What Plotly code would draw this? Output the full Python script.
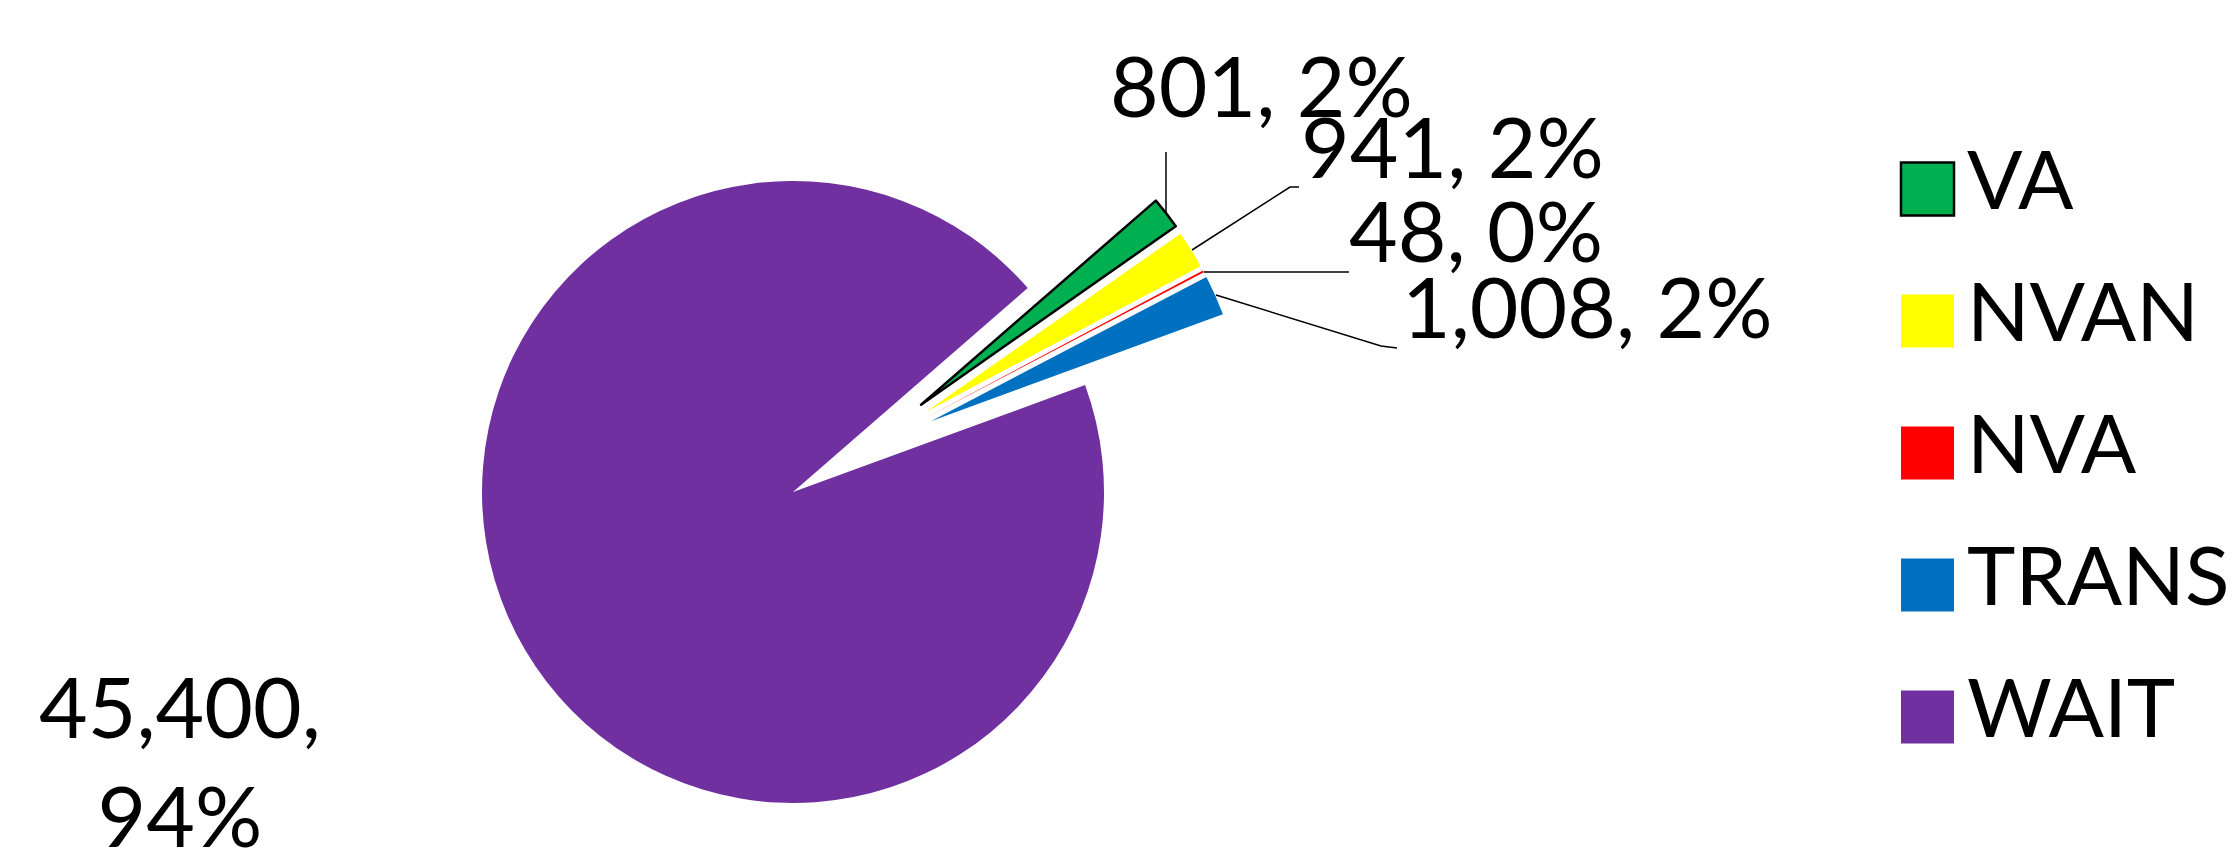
import math
import plotly.graph_objects as go

# ---------------- data ----------------
categories = ["VA", "NVAN", "NVA", "TRANS", "WAIT"]
values = [801, 941, 48, 1008, 45400]
pulled_categories = ["VA", "NVAN", "NVA", "TRANS"]

# ---------------- style / layout ----------------
W, H = 2240, 853
slice_colors = {"VA": "#00B050", "NVAN": "#FFFF00", "NVA": "#FF0000",
                "TRANS": "#0070C0", "WAIT": "#7030A0"}
outline = {"VA": ("#000000", 2.5)}
TRANSPARENT = "rgba(0,0,0,0)"
FONT = "Lato, 'Open Sans', sans-serif"
LABEL_SIZE = 84
LEGEND_SIZE = 82

CX, CY, R = 785, 484, 311      # pie centre / radius (px)
PULL_PX = 155                   # explode distance (px)
EXPLODE_SPREAD = 0.5            # how far each exploded slice's direction follows its own bisector
ROTATION = 49                   # first slice start, degrees clockwise from 12 o'clock

# label anchors (px): left edge / vertical centre of text
label_pos = {"VA": (1100, 76), "NVAN": (1291, 138), "NVA": (1339, 221),
             "TRANS": (1392, 298)}
wait_label_pos = (172, 645)      # centre x, top y
leader_lines = {
    "VA": [(1158, 144), (1158, 205)],
    "NVAN": [(1184, 242), (1282, 179), (1291, 179)],
    "NVA": [(1196, 264), (1341, 264)],
    "TRANS": [(1208, 287), (1373, 338), (1389, 340)],
}
legend_x_sq = (1893, 1946)
legend_x_text = 1957
legend_rows = [179, 311, 443, 575, 707]
SQ = 53


def px(x):
    return x / W


def py(y):
    return 1 - y / H


def domain_for(cx, cy, r):
    return dict(x=[px(cx - r), px(cx + r)], y=[py(cy + r), py(cy - r)])


def pie_trace(visible_cats, domain):
    cols, lcols, lws = [], [], []
    for c in categories:
        if c in visible_cats:
            cols.append(slice_colors[c])
            lc, lw = outline.get(c, (TRANSPARENT, 0))
        else:
            cols.append(TRANSPARENT)
            lc, lw = TRANSPARENT, 0
        lcols.append(lc)
        lws.append(lw)
    return go.Pie(labels=categories, values=values, sort=False,
                  direction="clockwise", rotation=ROTATION,
                  marker=dict(colors=cols, line=dict(color=lcols, width=lws)),
                  textinfo="none", showlegend=False, domain=domain,
                  hoverinfo="label+value+percent")


fig = go.Figure()
total = sum(values)

# un-exploded slice(s)
fig.add_trace(pie_trace([c for c in categories if c not in pulled_categories],
                        domain_for(CX, CY, R)))

# mid angles (clockwise from 12 o'clock) of every slice
mids = {}
cum = 0
for c, v in zip(categories, values):
    mids[c] = ROTATION + 360 * (cum + v / 2) / total
    cum += v
group_lo = min(mids[c] - 180 * values[categories.index(c)] / total for c in pulled_categories)
group_hi = max(mids[c] + 180 * values[categories.index(c)] / total for c in pulled_categories)
group_mid = (group_lo + group_hi) / 2

# exploded slices, each moved outward
for c in pulled_categories:
    d_cw = group_mid + EXPLODE_SPREAD * (mids[c] - group_mid)
    th = math.radians(90 - d_cw)
    cx = CX + PULL_PX * math.cos(th)
    cy = CY - PULL_PX * math.sin(th)
    fig.add_trace(pie_trace([c], domain_for(cx, cy, R)))

annotations = []
shapes = []
for c, v in zip(categories, values):
    pct = round(100 * v / total)
    if c in label_pos:
        x, y = label_pos[c]
        annotations.append(dict(x=px(x), y=py(y), xref="paper", yref="paper",
                                xanchor="left", yanchor="middle", showarrow=False,
                                text=f"{v:,}, {pct}%",
                                font=dict(family=FONT, size=LABEL_SIZE, color="#000")))
        pts = leader_lines[c]
        path = "M " + " L ".join(f"{px(a)},{py(b)}" for a, b in pts)
        shapes.append(dict(type="path", xref="paper", yref="paper", path=path,
                           line=dict(color="#000000", width=1.5)))
    else:
        x, y = wait_label_pos
        annotations.append(dict(x=px(x), y=py(y), xref="paper", yref="paper",
                                xanchor="center", yanchor="top", showarrow=False,
                                text=f"{v:,},<br>{pct}%", align="center",
                                font=dict(family=FONT, size=LABEL_SIZE, color="#000")))

# custom legend with large swatches
for c, yc in zip(categories, legend_rows):
    lc, lw = outline.get(c, (slice_colors[c], 0))
    shapes.append(dict(type="rect", xref="paper", yref="paper",
                       x0=px(legend_x_sq[0]), x1=px(legend_x_sq[1]),
                       y0=py(yc + 2 + SQ / 2), y1=py(yc + 2 - SQ / 2),
                       fillcolor=slice_colors[c],
                       line=dict(color=lc, width=lw)))
    annotations.append(dict(x=px(legend_x_text), y=py(yc - 10), xref="paper", yref="paper",
                            xanchor="left", yanchor="middle", showarrow=False,
                            text=c, font=dict(family=FONT, size=LEGEND_SIZE, color="#000")))

fig.update_layout(width=W, height=H, margin=dict(l=0, r=0, t=0, b=0),
                  paper_bgcolor="white", plot_bgcolor="white",
                  showlegend=False, annotations=annotations, shapes=shapes)

fig.write_html("out.html")
